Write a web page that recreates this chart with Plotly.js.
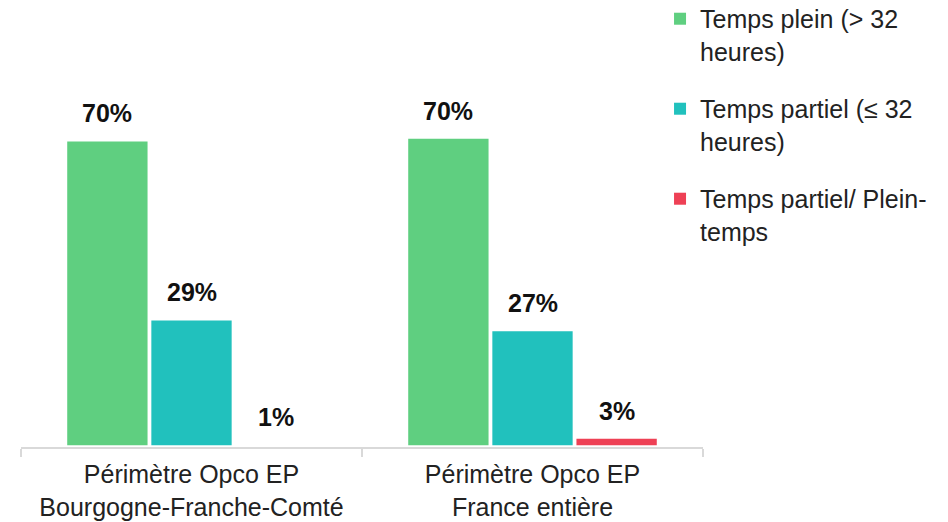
<!DOCTYPE html>
<html>
<head>
<meta charset="utf-8">
<script src="https://cdn.plot.ly/plotly-3.0.1.min.js"></script>
<style>html,body{margin:0;padding:0;background:#fff;}#chart{width:948px;height:522px;}</style>
</head>
<body>
<div id="chart"></div>
<script>
// ---- data ----
var categories = ["Périmètre Opco EP<br>Bourgogne-Franche-Comté", "Périmètre Opco EP<br>France entière"];
var seriesNames = ["Temps plein (> 32<br>heures)", "Temps partiel (≤ 32<br>heures)", "Temps partiel/ Plein-<br>temps"];
var tempsPlein = [69.6, 70.2];
var tempsPartiel = [28.6, 26.1];
var partielPlein = [0, 1.5];
var labelsPlein = ["70%", "70%"];
var labelsPartiel = ["29%", "27%"];
var labelsPartielPlein = ["1%", "3%"];
var colors = ["#5FCF80", "#21C1BD", "#EE4055"];

var FONT = "Liberation Sans, Arial, sans-serif";
var bargap = 0.26;
var series = [tempsPlein, tempsPartiel, partielPlein];
var labels = [labelsPlein, labelsPartiel, labelsPartielPlein];

var traces = series.map(function (vals, k) {
  return {
    type: "bar",
    name: seriesNames[k],
    x: categories,
    y: vals,
    marker: {color: colors[k]},
    legendgroup: "g" + k,
    hoverinfo: "skip"
  };
});

// data labels positioned over each bar via category index + group offset
var slot = (1 - bargap) / series.length;
var annotations = [];
series.forEach(function (vals, k) {
  vals.forEach(function (v, i) {
    annotations.push({
      x: i + (k - (series.length - 1) / 2) * slot,
      y: v,
      xref: "x", yref: "y",
      text: labels[k][i],
      showarrow: false,
      yanchor: "middle",
      yshift: 28,
      font: {family: FONT, size: 25, color: "#111", weight: "bold"}
    });
  });
});

var layout = {
  width: 948,
  height: 522,
  margin: {l: 21, r: 245, t: 96, b: 75, autoexpand: false},
  paper_bgcolor: "#ffffff",
  plot_bgcolor: "#ffffff",
  barmode: "group",
  bargap: bargap,
  bargroupgap: 0.045,
  font: {family: FONT, color: "#222"},
  xaxis: {
    type: "category",
    showline: true,
    linecolor: "#d9d9d9",
    linewidth: 2,
    ticks: "outside",
    tickson: "boundaries",
    ticklen: 8,
    tickwidth: 2,
    tickcolor: "#d9d9d9",
    ticklabelstandoff: 4,
    tickfont: {family: FONT, size: 25, color: "#222"},
    showgrid: false,
    zeroline: false,
    automargin: false,
    fixedrange: true
  },
  yaxis: {
    visible: false,
    range: [-0.4, 80],
    showgrid: false,
    zeroline: false,
    fixedrange: true
  },
  showlegend: true,
  legend: {
    x: 0.937,
    xanchor: "left",
    y: 1.285,
    yanchor: "top",
    traceorder: "grouped",
    tracegroupgap: 22,
    valign: "top",
    font: {family: FONT, size: 25, color: "#222"},
    bgcolor: "rgba(0,0,0,0)"
  },
  annotations: annotations
};

Plotly.newPlot("chart", traces, layout, {displayModeBar: false, staticPlot: true});
</script>
</body>
</html>
